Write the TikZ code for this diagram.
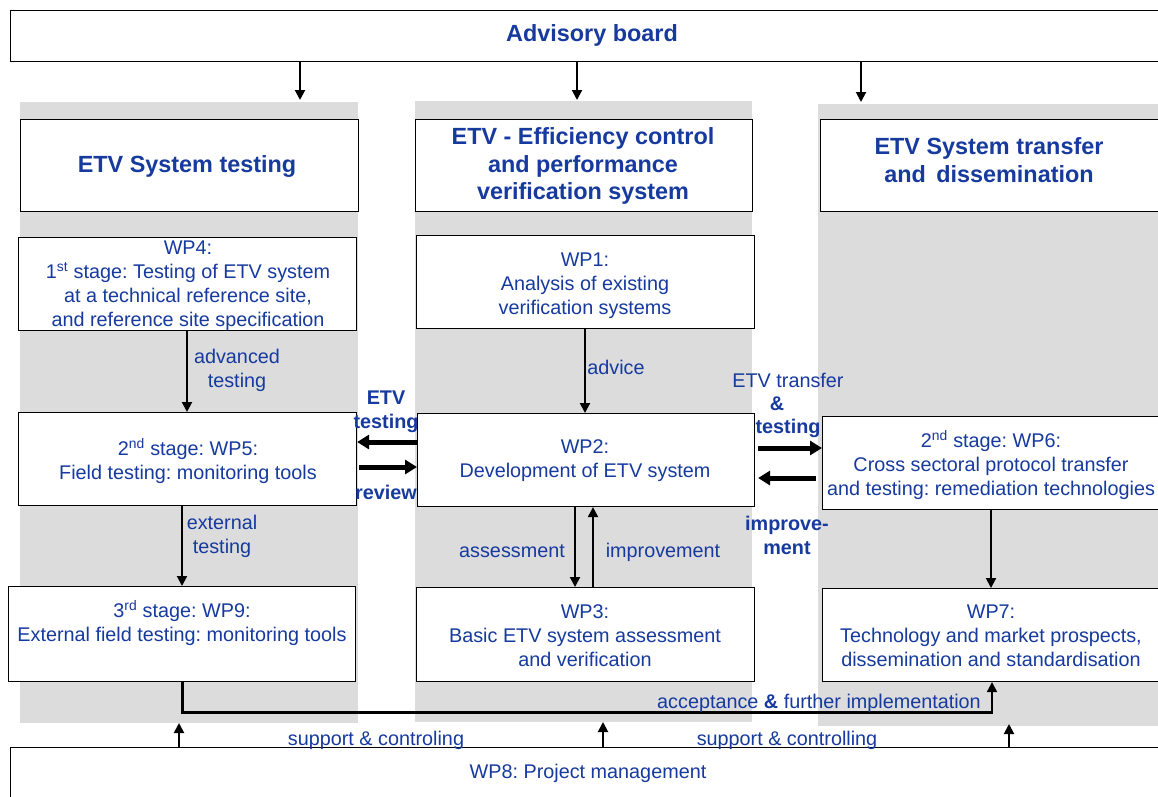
\documentclass[tikz,border=0pt]{standalone}
\usepackage{fontspec}
\setmainfont{Liberation Sans}
\usetikzlibrary{arrows.meta}
\definecolor{tblue}{RGB}{22,58,158}
\definecolor{colgray}{RGB}{220,220,220}
\frenchspacing
\tikzset{
  box/.style={draw=black, line width=1.1pt, fill=white, anchor=north west, inner sep=0pt},
  head/.style={box, font=\fontsize{23.4}{27.5}\selectfont\bfseries, text=tblue, align=center},
  wp/.style={box, font=\fontsize{19.8}{24}\selectfont, text=tblue, align=center},
  lbl/.style={font=\fontsize{19.8}{24}\selectfont, text=tblue, align=center, inner sep=0pt},
  blbl/.style={lbl, font=\fontsize{19.8}{24}\selectfont\bfseries},
  thin/.style={line width=2pt, -{Triangle[length=10pt,width=10pt]}},
  thick/.style={line width=5pt, -{Triangle[length=12pt,width=14pt]}},
  column/.style={fill=colgray, draw=none}
}
\begin{document}
\begin{tikzpicture}[x=1pt,y=-1pt]
\useasboundingbox (0,0) rectangle (1158,796);
\fill[white] (0,0) rectangle (1158,796);
% gray columns
\fill[column] (20,102) rectangle (358,723);
\fill[column] (415,101) rectangle (752,722);
\fill[column] (818,104) rectangle (1170,726);
% advisory board
\node[head, minimum width=1160pt, minimum height=51pt] (adv) at (10,10) {};
\node[lbl, font=\fontsize{23.4}{27.5}\selectfont\bfseries] (advt) at (592,35) {Advisory board};
\coordinate (a1) at (300,100);
\coordinate (a2) at (577,100);
\coordinate (a3) at (861,102);
% headers
\node[head, minimum width=338pt, minimum height=92pt] (h1) at (20,119) {};
\node[lbl, font=\fontsize{23.4}{27.5}\selectfont\bfseries] (h1t) at (187,166) {ETV System testing};
\node[head, minimum width=337pt, minimum height=92pt] (h2) at (415,119) {};
\node[lbl, font=\fontsize{23.4}{27.5}\selectfont\bfseries] (h2t) at (583,166) {ETV - Efficiency control\\and performance\\verification system};
\node[head, minimum width=338pt, minimum height=92pt] (h3) at (820,119) {};
\node[lbl, font=\fontsize{23.4}{27.5}\selectfont\bfseries] (h3t) at (989,160) {ETV System transfer\\and\, dissemination};
% work packages
\node[wp, minimum width=338pt, minimum height=93pt] (wp4) at (18,237) {};
\node[lbl] (wp4t) at (188,286) {WP4:\\1\textsuperscript{st} stage: Testing of ETV system\\at a technical reference site,\\and reference site specification};
\node[wp, minimum width=338pt, minimum height=93pt] (wp1) at (416,235) {};
\node[lbl] (wp1t) at (585,286) {WP1:\\Analysis of existing\\verification systems};
\node[wp, minimum width=338pt, minimum height=93pt] (wp5) at (18,412) {};
\node[lbl] (wp5t) at (188,461) {2\textsuperscript{nd} stage: WP5:\\Field testing: monitoring tools};
\node[wp, minimum width=337pt, minimum height=93pt] (wp2) at (417,413) {};
\node[lbl] (wp2t) at (585,461) {WP2:\\Development of ETV system};
\node[wp, minimum width=345pt, minimum height=93pt] (wp6) at (822,416) {};
\node[lbl] (wp6t) at (991,465) {2\textsuperscript{nd} stage: WP6:\\Cross sectoral protocol transfer\\and testing: remediation technologies};
\node[wp, minimum width=347pt, minimum height=95pt] (wp9) at (8,586) {};
\node[lbl] (wp9t) at (182,623) {3\textsuperscript{rd} stage: WP9:\\External field testing: monitoring tools};
\node[wp, minimum width=338pt, minimum height=94pt] (wp3) at (416,587) {};
\node[lbl] (wp3t) at (585,636) {WP3:\\Basic ETV system assessment\\and verification};
\node[wp, minimum width=345pt, minimum height=93pt] (wp7) at (822,588) {};
\node[lbl] (wp7t) at (991,636) {WP7:\\Technology and market prospects,\\dissemination and standardisation};
\node[wp, minimum width=1160pt, minimum height=60pt] (wp8) at (10,747) {};
\node[lbl] (wp8t) at (588,773) {WP8: Project management};
% advisory arrows
\draw[thin] (adv.south -| a1) -- (a1);
\draw[thin] (adv.south -| a2) -- (a2);
\draw[thin] (adv.south -| a3) -- (a3);
% vertical arrows
\draw[thin] (wp4.south -| 187,0) -- (wp5.north -| 187,0);
\draw[thin] (wp1.south -| 585,0) -- (wp2.north -| 585,0);
\draw[thin] (wp5.south -| 182,0) -- (wp9.north -| 182,0);
\draw[thin] (wp2.south -| 575,0) -- (wp3.north -| 575,0);
\draw[thin] (wp3.north -| 593,0) -- (wp2.south -| 593,0);
\draw[thin] (wp6.south -| 991,0) -- (wp7.north -| 991,0);
% thick horizontal arrows
\draw[thick] (wp2.west |- 0,442) -- (wp5.east |- 0,442);
\draw[thick] (wp5.east |- 0,467) ++(2,0) -- (wp2.west |- 0,467);
\draw[thick] (wp2.east |- 0,448) ++(3,0) -- (wp6.west |- 0,448);
\draw[thick] (wp6.west |- 0,478) ++(-6,0) -- ([xshift=3pt]wp2.east |- 0,478);
% acceptance
\coordinate (acc) at (182,712);
\draw[line width=3pt] (wp9.south -| acc) -- (acc) -- (992,712);
\draw[thin] (992,713.5) -- (wp7.south -| 992,0);
% support arrows
\draw[thin] (wp8.north -| 179,0) -- (179,723);
\draw[thin] (wp8.north -| 603,0) -- (603,722);
\draw[thin] (wp8.north -| 1009,0) -- (1009,724);
% labels
\node[lbl] (l1) at (237,370) {advanced\\testing};
\node[blbl] (l2) at (386,412) {ETV\\testing};
\node[blbl] (l3) at (386,492) {review};
\node[lbl] (l4) at (616,367) {advice};
\node[lbl] (l5) at (788,380) {ETV transfer};
\node[blbl] (l5b) at (777,404) {\&};
\node[blbl] (l5c) at (788,428) {testing};
\node[lbl] (l6) at (222,536) {external\\testing};
\node[lbl] (l7) at (512,551) {assessment};
\node[lbl] (l8) at (663,552) {improvement};
\node[blbl] (l9) at (787,535) {improve-\\ment};
\node[lbl] (l10) at (819,703) {acceptance \textbf{\&} further implementation};
\node[lbl] (l11) at (376,740) {support \& controling};
\node[lbl] (l12) at (787,740) {support \& controlling};
\end{tikzpicture}
\end{document}
